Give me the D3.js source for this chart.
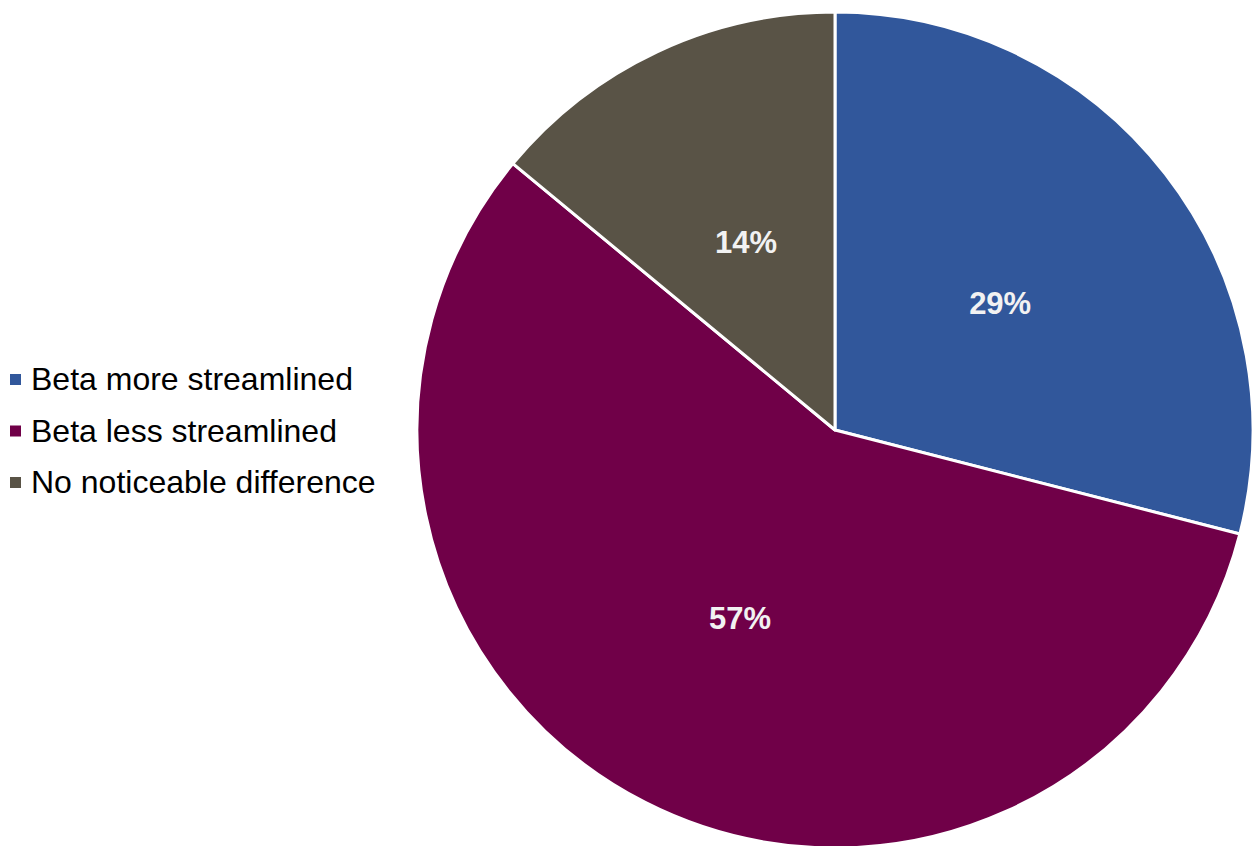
<html>
<head>
    <meta charset="UTF-8" />
    <script src="https://d3js.org/d3.v7.min.js"></script>
    <style>
        body { margin: 0; background: white; }
    </style>
</head>
<body>
    <svg id="chart" width="1253" height="846"></svg>
    <script>
        // data
        const categories = ['Beta more streamlined', 'Beta less streamlined', 'No noticeable difference'];
        const values = [29, 57, 14];
        const colors = ['#31579b', '#700048', '#595346'];

        const svg = d3.select('svg#chart');
        const cx = 835, cy = 430, radius = 418;

        const pie = d3.pie().sort(null).value(d => d.value);
        const rows = categories.map((c, i) => ({ name: c, value: values[i], color: colors[i] }));
        const arcs = pie(rows);

        const arc = d3.arc().innerRadius(0).outerRadius(radius);
        const labelArc = d3.arc().innerRadius(radius * 0.5).outerRadius(radius * 0.5);

        const g = svg.append('g').attr('transform', `translate(${cx}, ${cy})`);

        g.selectAll('path.slice')
            .data(arcs)
            .join('path')
            .attr('class', 'slice')
            .attr('d', arc)
            .attr('fill', d => d.data.color)
            .attr('stroke', 'white')
            .attr('stroke-width', 3)
            .attr('stroke-linejoin', 'round');

        const total = d3.sum(values);
        g.selectAll('text.lbl')
            .data(arcs)
            .join('text')
            .attr('class', 'lbl')
            .attr('transform', d => `translate(${labelArc.centroid(d)})`)
            .attr('text-anchor', 'middle')
            .attr('dy', '0.4em')
            .style('font-family', 'Liberation Sans, Arial, sans-serif')
            .style('font-size', '31px')
            .style('font-weight', 'bold')
            .style('fill', '#f2f2f2')
            .text(d => Math.round(d.data.value / total * 100) + '%');

        // legend
        const legend = svg.append('g');
        const rowY = d3.scalePoint().domain(categories).range([379, 482]);

        categories.forEach((c, i) => {
            legend.append('rect')
                .attr('x', 10)
                .attr('y', rowY(c) - 5)
                .attr('width', 11)
                .attr('height', 11)
                .attr('fill', colors[i]);
            legend.append('text')
                .attr('x', 31)
                .attr('y', rowY(c))
                .attr('dy', '0.35em')
                .style('font-family', 'Liberation Sans, Arial, sans-serif')
                .style('font-size', '32px')
                .style('fill', '#000')
                .text(c);
        });
    </script>
</body>
</html>
